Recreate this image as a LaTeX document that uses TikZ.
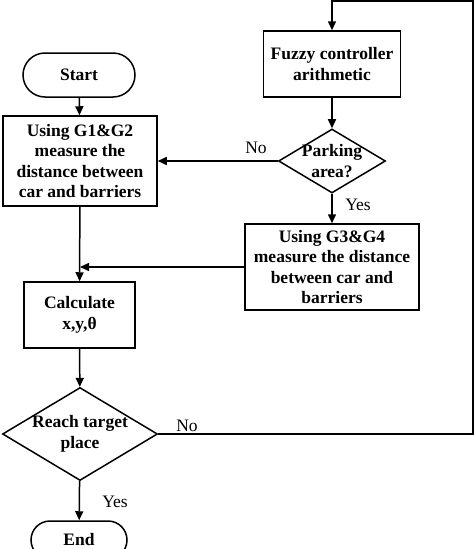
\documentclass[tikz,border=0pt]{standalone}
\usepackage{fontspec}
\setmainfont{Liberation Serif}
\usetikzlibrary{shapes.geometric}
\usetikzlibrary{arrows.meta}
\newcommand\chartfont{\fontsize{17.5}{20.5}\selectfont}
\tikzset{
	block/.style={draw, line width=1.5pt, align=center, font=\chartfont\bfseries, inner sep=0pt},
	terminal/.style={block, rounded corners=19pt},
	decision/.style={draw, diamond, line width=1.5pt, inner sep=0pt},
	dtext/.style={align=center, font=\chartfont\bfseries, inner sep=0pt},
	flow/.style={line width=1.5pt},
	arrow/.style={flow, -{Triangle[length=9pt,width=8pt]}},
	answer/.style={font=\chartfont, inner sep=0pt}
}

\begin{document}
\begin{tikzpicture}[x=1pt,y=-1pt]
	\useasboundingbox (0,0) rectangle (474,549);
	%% left column
	\node[terminal, rounded corners=22pt, minimum width=112pt, minimum height=44pt] (start) at (79,75) {Start};
	\node[block, minimum width=154pt, minimum height=90pt] (g12) at (80,161)
		{Using G1\&G2\\measure the\\distance between\\car and barriers};
	\node[block, minimum width=111pt, minimum height=66pt] (calc) at (79.5,315)
		{Calculate\\x,y,θ};
	\node[decision, minimum width=155pt, minimum height=93pt] (reach) at (80,434) {};
	\node[dtext] (reachtext) at (80,434) {Reach target\\place};
	\node[terminal, minimum width=96pt, minimum height=38pt] (end) at (79,540) {End};
	%% right column
	\node[block, minimum width=137pt, minimum height=66pt] (fuzzy) at (332,64)
		{Fuzzy controller\\arithmetic};
	\node[decision, minimum width=107pt, minimum height=64pt] (park) at (332,161) {};
	\node[dtext] (parktext) at (332,161) {Parking\\area?};
	\node[block, minimum width=174pt, minimum height=86pt] (g34) at (332,267)
		{Using G3\&G4\\measure the distance\\between car and\\barriers};
	%% loop corner
	\coordinate (corner) at (473,1);
	%% connectors
	\draw[arrow] (start) -- (g12);
	\draw[arrow] (g12) -- (calc);
	\draw[arrow] (calc) -- (reach);
	\draw[arrow] (reach) -- (end);
	\draw[arrow] (fuzzy) -- (park);
	\draw[arrow] (park) -- (g34);
	\draw[arrow] (park.west) -- (g12.east);
	\draw[arrow] (g34.west) -- (g34.west -| g12.south);
	\draw[arrow] (reach.east) -- (reach.east -| corner) -- (corner) -- (corner -| fuzzy.north) -- (fuzzy.north);
	%% answers
	\node[answer] (parkno) at (256,148) {No};
	\node[answer] (parkyes) at (358,205) {Yes};
	\node[answer] (reachno) at (187,426) {No};
	\node[answer] (reachyes) at (115,502) {Yes};
\end{tikzpicture}
\end{document}
